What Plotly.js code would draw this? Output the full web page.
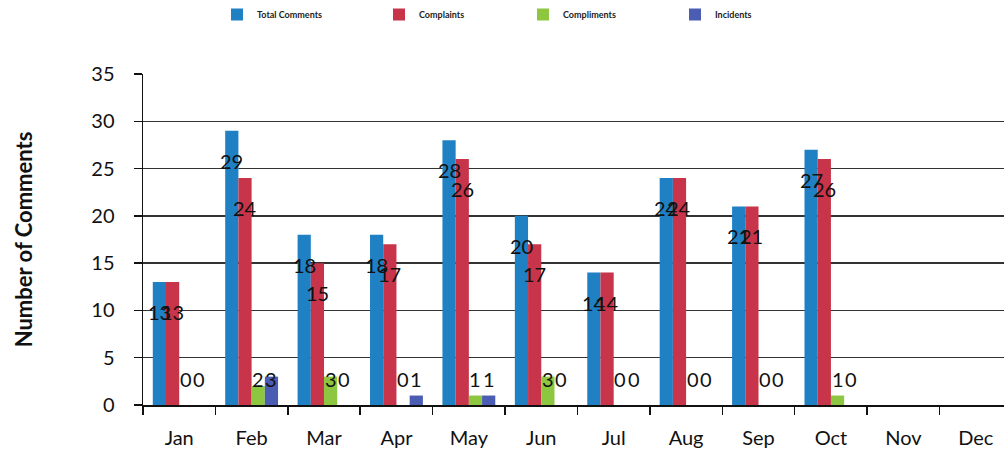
<!DOCTYPE html>
<html>
<head>
<meta charset="utf-8">
<script src="https://cdn.plot.ly/plotly-3.0.1.min.js"></script>
<style>html,body{margin:0;padding:0;background:#fff;overflow:hidden}#chart{width:1004px;height:457px}</style>
</head>
<body>
<div id="chart"></div>
<script>
const months = ["Jan","Feb","Mar","Apr","May","Jun","Jul","Aug","Sep","Oct","Nov","Dec"];
const totalComments = [13,29,18,18,28,20,14,24,21,27,null,null];
const complaints   = [13,24,15,17,26,17,14,24,21,26,null,null];
const compliments  = [0,2,3,0,1,3,0,0,0,1,null,null];
const incidents    = [0,3,0,1,1,0,0,0,0,0,null,null];
const yTicks = [0,5,10,15,20,25,30,35];

const seriesNames = ["Total Comments","Complaints","Compliments","Incidents"];
const seriesData = [totalComments, complaints, compliments, incidents];
const colors = ["#1f80c4","#c8344a","#8dc63f","#4b5cb3"];
const legendIds = ["legend","legend2","legend3","legend4"];
const legendX = [217, 379, 523, 675];

const traces = seriesData.map((d,i)=>({
  type:"bar", name:seriesNames[i], x:months, y:d,
  marker:{color:colors[i]}, legend:legendIds[i], hoverinfo:"x+y+name"
}));

const barW = 72.4*(1-0.27)/4;
const annotations = [];
seriesData.forEach((d,k)=>{
  d.forEach((v,j)=>{
    if(v===null) return;
    const big = k<2;
    annotations.push({
      xref:"x", yref:"y", x:months[j], y: big ? v : 0,
      yshift: big ? -30 : 26, xshift:(k-1.5)*barW,
      text:String(v), showarrow:false,
      font:{family:"Lato, 'Open Sans', sans-serif", size:20, color:"#111"}
    });
  });
});

const legendBase = {orientation:"h", xref:"container", yref:"container", xanchor:"left", yanchor:"top",
  y:1.0, bgcolor:"rgba(0,0,0,0)", font:{family:"Lato, 'Open Sans', sans-serif", size:9, color:"#222", weight:"bold"}};
const layout = {
  width:1004, height:457,
  margin:{l:143, r:0, t:74, b:52},
  paper_bgcolor:"#fff", plot_bgcolor:"#fff",
  barmode:"group", bargap:0.27, bargroupgap:0,
  showlegend:true,
  font:{family:"Lato, 'Open Sans', sans-serif", color:"#111"},
  xaxis:{type:"category", range:[-0.5, 11.39], showline:true, linecolor:"#111", linewidth:1.5,
    ticks:"outside", ticklen:8, tickcolor:"#111", tickwidth:1.5, tickson:"boundaries",
    tickfont:{size:20, color:"#111"}, ticklabelstandoff:14, showgrid:false, fixedrange:true},
  yaxis:{range:[0,35], tickvals:yTicks, showline:true, linecolor:"#111", linewidth:1.5,
    ticks:"outside", ticklen:8, tickcolor:"#111", tickwidth:1.5,
    tickfont:{size:20, color:"#111"}, ticklabelstandoff:15,
    showgrid:true, gridcolor:"#333", gridwidth:1.5, zeroline:false,
    title:{text:"Number of Comments", font:{size:22, color:"#111", weight:"bold"}, standoff:52}},
  annotations:annotations
};
legendIds.forEach((id,i)=>{ layout[id] = Object.assign({}, legendBase, {x: legendX[i]/1004}); });

Plotly.newPlot("chart", traces, layout, {displayModeBar:false, staticPlot:true});
</script>
</body>
</html>
